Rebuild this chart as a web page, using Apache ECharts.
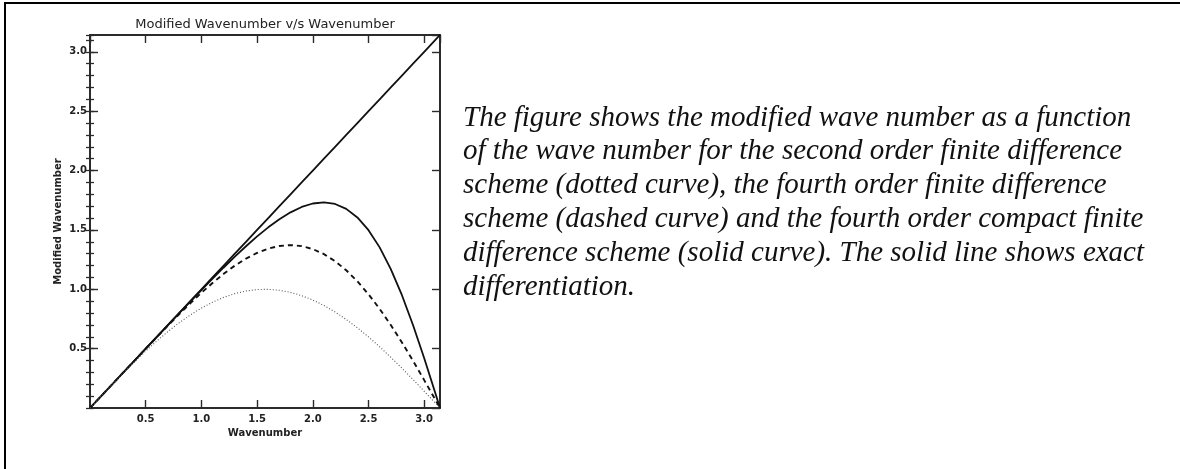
<!DOCTYPE html>
<html>
<head>
<meta charset="utf-8">
<title>Modified Wavenumber v/s Wavenumber</title>
<script src="https://cdn.jsdelivr.net/npm/echarts@6/dist/echarts.min.js"></script>
<style>
  html, body { margin: 0; padding: 0; background: #ffffff; }
  #chart { width: 1180px; height: 469px; }
</style>
</head>
<body>
<div id="chart"></div>
<script>
// Wavenumber samples (0 .. pi)
const wavenumber = [0, 0.1, 0.2, 0.3, 0.4, 0.5, 0.6, 0.7, 0.8, 0.9, 1.0, 1.1, 1.2, 1.3, 1.4, 1.5,
  1.6, 1.7, 1.8, 1.9, 2.0, 2.1, 2.2, 2.3, 2.4, 2.5, 2.6, 2.7, 2.8, 2.9, 3.0, 3.1, 3.1416];

// Exact differentiation: modified wavenumber equals wavenumber
const exactValues = [0, 0.1, 0.2, 0.3, 0.4, 0.5, 0.6, 0.7, 0.8, 0.9, 1.0, 1.1, 1.2, 1.3, 1.4, 1.5,
  1.6, 1.7, 1.8, 1.9, 2.0, 2.1, 2.2, 2.3, 2.4, 2.5, 2.6, 2.7, 2.8, 2.9, 3.0, 3.1, 3.1416];

// Second order finite difference (dotted curve)
const secondOrderFD = [0, 0.0998, 0.1987, 0.2955, 0.3894, 0.4794, 0.5646, 0.6442, 0.7174, 0.7833,
  0.8415, 0.8912, 0.9320, 0.9636, 0.9854, 0.9975, 0.9996, 0.9917, 0.9738, 0.9463, 0.9093, 0.8632,
  0.8085, 0.7457, 0.6755, 0.5985, 0.5155, 0.4274, 0.3350, 0.2392, 0.1411, 0.0416, 0];

// Fourth order finite difference (dashed curve)
const fourthOrderFD = [0, 0.1000, 0.2000, 0.2999, 0.3996, 0.4990, 0.5975, 0.6947, 0.7899, 0.8821,
  0.9704, 1.0535, 1.1301, 1.1989, 1.2580, 1.3065, 1.3425, 1.3648, 1.3721, 1.3637, 1.3385, 1.2962,
  1.2366, 1.1599, 1.0667, 0.9578, 0.8346, 0.6987, 0.5519, 0.3964, 0.2347, 0.0693, 0];

// Fourth order compact finite difference (solid curve)
const fourthOrderCompact = [0, 0.1000, 0.2000, 0.3000, 0.3999, 0.4998, 0.5995, 0.6990, 0.7981, 0.8964,
  0.9938, 1.0897, 1.1835, 1.2749, 1.3623, 1.4452, 1.5216, 1.5900, 1.6479, 1.6931, 1.7223, 1.7320,
  1.7184, 1.6774, 1.6050, 1.4976, 1.3529, 1.1700, 0.9501, 0.6974, 0.4191, 0.1247, 0];

const axisMax = 3.1416;

const chartTitle = 'Modified Wavenumber v/s Wavenumber';
const xAxisName = 'Wavenumber';
const yAxisName = 'Modified Wavenumber';

const captionLines = [
  'The figure shows the modified wave number as a function',
  'of the wave number for the second order finite difference',
  'scheme (dotted curve), the fourth order finite difference',
  'scheme (dashed curve) and the fourth order compact finite',
  'difference scheme (solid curve). The solid line shows exact',
  'differentiation.'
];

const pairs = (ys) => wavenumber.map((x, i) => [x, ys[i]]);

const axisColor = '#2b2b2b';
const labelFont = { fontFamily: 'DejaVu Sans', fontSize: 10, fontWeight: 'bold', color: '#222' };
const tickLabel = (v) => (v <= 0 || v > 3.05) ? '' : v.toFixed(1);

// Major ticks on every side of the box
function boxAxis(extra) {
  return Object.assign({
    type: 'value',
    min: 0,
    max: axisMax,
    interval: 0.5,
    axisLine: { show: true, onZero: false, lineStyle: { color: axisColor, width: 2 } },
    axisTick: { show: true, inside: true, length: 8, lineStyle: { color: axisColor, width: 1.4 } },
    axisLabel: { show: false },
    splitLine: { show: false }
  }, extra);
}

// Minor ticks (0.1 steps) on the vertical sides
function minorAxis(extra) {
  return Object.assign({
    type: 'value',
    min: 0,
    max: axisMax,
    interval: 0.1,
    axisLine: { show: false },
    axisTick: { show: true, inside: true, length: 4, lineStyle: { color: axisColor, width: 1.3 } },
    axisLabel: { show: false },
    splitLine: { show: false }
  }, extra);
}

const captionGraphics = captionLines.map((line, i) => ({
  type: 'text',
  x: 463,
  y: 118 + i * 33.8,
  style: {
    text: line,
    font: 'italic 29px "Liberation Serif"',
    fill: '#111',
    verticalAlign: 'middle',
    align: 'left'
  },
  silent: true
}));

const option = {
  backgroundColor: '#ffffff',
  animation: false,
  grid: { left: 90, top: 35, width: 350, height: 373, outerBoundsMode: 'none', containLabel: false },
  xAxis: [
    boxAxis({
      position: 'bottom',
      name: xAxisName,
      nameLocation: 'middle',
      nameGap: 19,
      nameTextStyle: Object.assign({}, labelFont),
      axisLabel: Object.assign({ show: true, margin: 6, showMinLabel: false, showMaxLabel: false, formatter: tickLabel }, labelFont)
    }),
    boxAxis({ position: 'top' })
  ],
  yAxis: [
    boxAxis({
      position: 'left',
      name: yAxisName,
      nameLocation: 'middle',
      nameGap: 27,
      nameTextStyle: Object.assign({}, labelFont),
      axisLabel: Object.assign({ show: true, margin: 3, showMinLabel: false, showMaxLabel: false, formatter: tickLabel }, labelFont)
    }),
    minorAxis({ position: 'left' }),
    boxAxis({ position: 'right' }),
    minorAxis({ position: 'right' })
  ],
  graphic: [
    { type: 'rect', shape: { x: 4, y: 2, width: 1176, height: 2 }, style: { fill: '#000' }, silent: true },
    { type: 'rect', shape: { x: 4, y: 2, width: 2, height: 467 }, style: { fill: '#000' }, silent: true },
    {
      type: 'text',
      x: 265,
      y: 25,
      style: {
        text: chartTitle,
        font: '13px "DejaVu Sans"',
        fill: '#222',
        align: 'center',
        verticalAlign: 'middle'
      },
      silent: true
    }
  ].concat(captionGraphics),
  series: [
    {
      name: 'Exact',
      type: 'line',
      data: pairs(exactValues),
      showSymbol: false,
      lineStyle: { color: '#111', width: 1.8 }
    },
    {
      name: 'Fourth order compact',
      type: 'line',
      data: pairs(fourthOrderCompact),
      showSymbol: false,
      lineStyle: { color: '#111', width: 1.8 }
    },
    {
      name: 'Fourth order FD',
      type: 'line',
      data: pairs(fourthOrderFD),
      showSymbol: false,
      lineStyle: { color: '#111', width: 1.9, type: [5, 4] }
    },
    {
      name: 'Second order FD',
      type: 'line',
      data: pairs(secondOrderFD),
      showSymbol: false,
      lineStyle: { color: '#555', width: 1.1, type: [1, 2] }
    }
  ]
};

const chart = echarts.init(document.getElementById('chart'), null, { renderer: 'canvas' });
chart.setOption(option);
</script>
</body>
</html>
